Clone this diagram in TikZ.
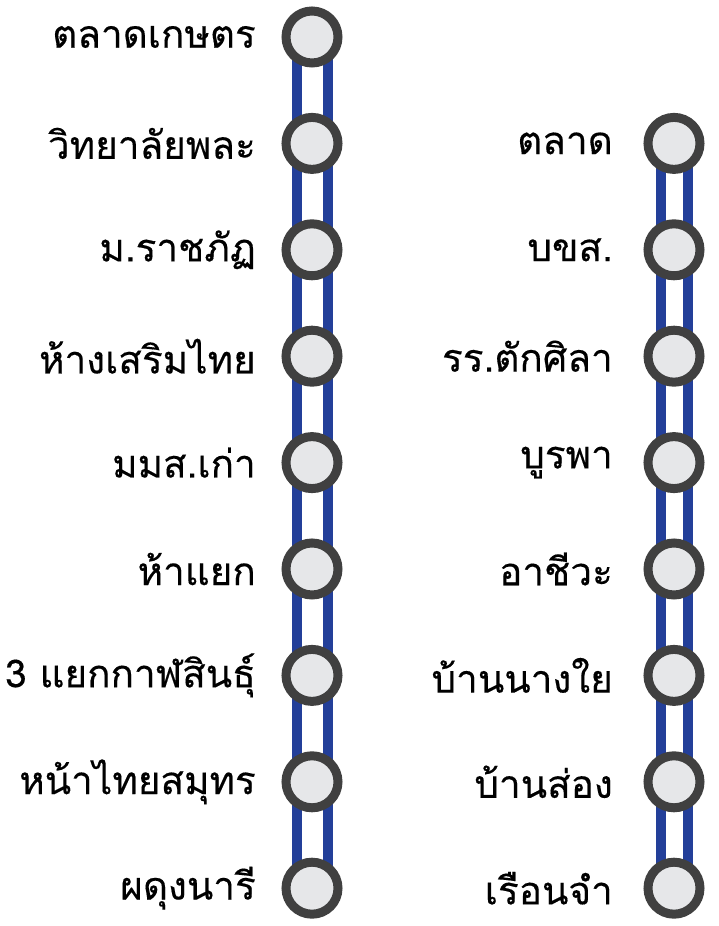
\documentclass[tikz,border=0pt]{standalone}
\usepackage{fontspec}
\usepackage{tikz}
\usetikzlibrary{positioning,backgrounds}
\newfontfamily\thaifont[Script=Thai,FakeBold=0.3]{Loma}
\definecolor{lineblu}{HTML}{233F99}
\definecolor{stnring}{HTML}{404040}
\definecolor{stnfill}{HTML}{E6E7E9}

\begin{document}
\begin{tikzpicture}[
    stn/.style={draw=stnring,fill=stnfill,circle,line width=0.9mm,minimum size=5.2mm,inner sep=0pt},
    lbl/.style={font=\thaifont\fontsize{11}{13}\selectfont,inner sep=0pt,anchor=east},
    rail/.style={lineblu,line width=1mm}]
  \useasboundingbox (0,0) rectangle (7.18,9.26);
  % left line
  \node[stn] (a1) at (3.12,8.89){};
  \node[stn] (a2) at (3.12,7.826){};
  \node[stn] (a3) at (3.12,6.762){};
  \node[stn] (a4) at (3.12,5.698){};
  \node[stn] (a5) at (3.12,4.634){};
  \node[stn] (a6) at (3.12,3.570){};
  \node[stn] (a7) at (3.12,2.506){};
  \node[stn] (a8) at (3.12,1.442){};
  \node[stn] (a9) at (3.12,0.378){};
  % right line
  \node[stn] (b1) at (6.74,7.826){};
  \node[stn] (b2) at (6.74,6.762){};
  \node[stn] (b3) at (6.74,5.698){};
  \node[stn] (b4) at (6.74,4.634){};
  \node[stn] (b5) at (6.74,3.570){};
  \node[stn] (b6) at (6.74,2.506){};
  \node[stn] (b7) at (6.74,1.442){};
  \node[stn] (b8) at (6.74,0.378){};
  % names
  \node[lbl,left=2.5mm of a1] (ta1){ตลาดเกษตร};
  \node[lbl,left=2.5mm of a2] (ta2){วิทยาลัยพละ};
  \node[lbl,left=2.5mm of a3] (ta3){ม.ราชภัฏ};
  \node[lbl,left=2.5mm of a4] (ta4){ห้างเสริมไทย};
  \node[lbl,left=2.5mm of a5] (ta5){มมส.เก่า};
  \node[lbl,left=2.5mm of a6] (ta6){ห้าแยก};
  \node[lbl,left=2.5mm of a7] (ta7){3 แยกกาฬสินธุ์};
  \node[lbl,left=2.5mm of a8] (ta8){หน้าไทยสมุทร};
  \node[lbl,left=2.5mm of a9] (ta9){ผดุงนารี};
  \node[lbl,left=3mm of b1] (tb1){ตลาด};
  \node[lbl,left=3mm of b2] (tb2){บขส.};
  \node[lbl,left=3mm of b3] (tb3){รร.ตักศิลา};
  \node[lbl,left=3mm of b4] (tb4){บูรพา};
  \node[lbl,left=3mm of b5] (tb5){อาชีวะ};
  \node[lbl,left=3mm of b6] (tb6){บ้านนางใย};
  \node[lbl,left=3mm of b7] (tb7){บ้านส่อง};
  \node[lbl,left=3mm of b8] (tb8){เรือนจำ};
  \begin{scope}[on background layer]
    \draw[rail] ([xshift=-1.55mm]a1.center)--([xshift=-1.55mm]a9.center);
    \draw[rail] ([xshift=1.55mm]a1.center)--([xshift=1.55mm]a9.center);
    \draw[rail] ([xshift=-1.35mm]b1.center)--([xshift=-1.35mm]b8.center);
    \draw[rail] ([xshift=1.35mm]b1.center)--([xshift=1.35mm]b8.center);
  \end{scope}
\end{tikzpicture}
\end{document}
